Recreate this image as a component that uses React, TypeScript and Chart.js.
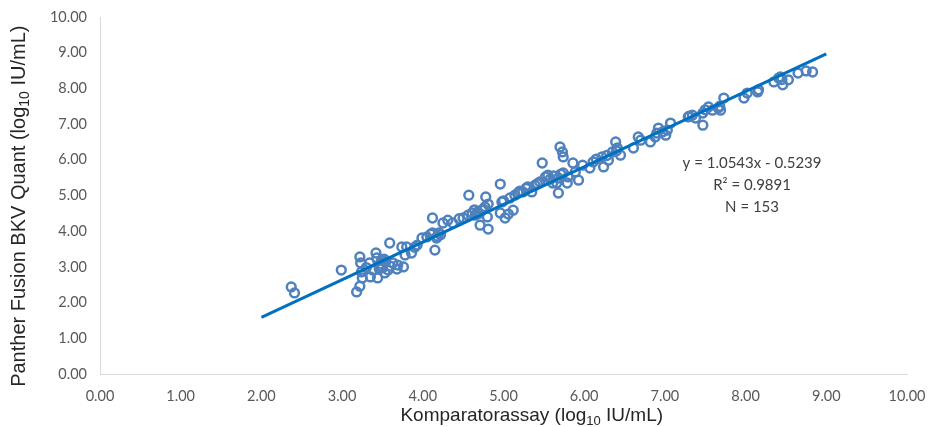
import React, { useEffect, useRef } from "react";
import { Chart, registerables } from "chart.js";

Chart.register(...registerables);

// Komparatorassay (log10 IU/mL)
const xValues: number[] = [
  2.37, 2.41, 2.99, 3.18, 3.22, 3.22, 3.23, 3.24, 3.25, 3.34,
  3.35, 3.38, 3.42, 3.43, 3.44, 3.47, 3.49, 3.50, 3.54, 3.57,
  3.53, 3.59, 3.63, 3.68, 3.69, 3.74, 3.76, 3.78, 3.80, 3.86,
  3.93, 3.99, 4.05, 4.12, 4.12, 4.15, 4.17, 4.20, 4.25, 4.31,
  4.37, 4.50, 4.57, 4.56, 4.61, 4.65, 4.68, 4.71, 4.73, 4.77,
  4.78, 4.81, 4.81, 4.80, 4.96, 4.98, 4.96, 5.02, 5.06, 5.12,
  5.08, 5.14, 5.18, 5.24, 5.30, 5.35, 5.39, 5.45, 5.48, 5.52,
  5.55, 5.58, 5.61, 5.66, 5.68, 5.68, 5.70, 5.73, 5.74, 5.74,
  5.79, 5.80, 5.86, 5.89, 5.93, 5.98, 6.07, 6.11, 6.22, 6.24,
  6.30, 6.35, 6.39, 6.41, 6.45, 6.61, 6.67, 6.70, 6.82, 6.88,
  6.92, 6.97, 7.03, 7.07, 7.01, 7.29, 7.34, 7.38, 7.47, 7.47,
  7.54, 7.59, 7.66, 7.69, 7.73, 7.98, 8.02, 8.15, 8.16, 8.35,
  8.41, 8.43, 8.46, 8.53, 8.65, 8.75, 8.83, 3.30, 3.46, 3.60,
  3.52, 4.18, 4.22, 4.64, 4.70, 4.75, 5.00, 5.20, 5.28, 5.42,
  5.62, 5.71, 6.15, 6.28, 6.40, 6.90, 7.30, 7.50, 7.68, 8.45,
  3.90, 4.10, 4.45,
];

// Panther Fusion BKV Quant (log10 IU/mL)
const yValues: number[] = [
  2.44, 2.27, 2.91, 2.30, 2.46, 3.28, 3.11, 2.86, 2.69, 3.11,
  2.72, 2.91, 3.39, 3.25, 2.69, 3.08, 3.19, 2.97, 3.14, 2.91,
  2.83, 3.67, 3.11, 2.94, 3.05, 3.56, 3.00, 3.33, 3.56, 3.39,
  3.61, 3.81, 3.84, 3.95, 4.37, 3.47, 3.81, 3.95, 4.23, 4.31,
  4.23, 4.37, 5.01, 4.45, 4.51, 4.45, 4.54, 4.17, 4.59, 4.68,
  4.96, 4.06, 4.76, 4.40, 5.32, 4.82, 4.51, 4.37, 4.48, 4.59,
  4.93, 5.01, 5.07, 5.10, 5.24, 5.10, 5.29, 5.38, 5.91, 5.52,
  5.57, 5.46, 5.35, 5.35, 5.07, 5.49, 6.36, 6.22, 6.08, 5.63,
  5.35, 5.52, 5.91, 5.66, 5.43, 5.85, 5.77, 5.94, 6.08, 5.80,
  5.99, 6.22, 6.50, 6.33, 6.13, 6.33, 6.64, 6.55, 6.50, 6.64,
  6.89, 6.78, 6.83, 7.03, 6.69, 7.20, 7.25, 7.17, 6.97, 7.31,
  7.48, 7.39, 7.45, 7.39, 7.73, 7.73, 7.87, 7.90, 7.96, 8.18,
  8.29, 8.32, 8.10, 8.24, 8.43, 8.49, 8.46, 2.98, 2.95, 3.02,
  3.22, 3.86, 3.90, 4.60, 4.50, 4.62, 4.85, 5.12, 5.20, 5.33,
  5.55, 5.60, 6.02, 6.12, 6.25, 6.75, 7.22, 7.40, 7.50, 8.25,
  3.55, 3.92, 4.35,
];

const axisTicks: number[] = [0, 1, 2, 3, 4, 5, 6, 7, 8, 9, 10];
const trendSlope = 1.0543;
const trendIntercept = -0.5239;
const trendRange: number[] = [2, 9];
const annotationLines: string[] = ["y = 1.0543x - 0.5239", "R\u00B2 = 0.9891", "N = 153"];
const xTitleParts: string[] = ["Komparatorassay (log", "10", " IU/mL)"];
const yTitleParts: string[] = ["Panther Fusion BKV Quant (log", "10", " IU/mL)"];

function drawRich(
  ctx: CanvasRenderingContext2D,
  parts: string[],
  cx: number,
  baseline: number,
  size: number
) {
  const main = `${size}px 'Liberation Sans', Arial, sans-serif`;
  const sub = `${Math.round(size * 0.68)}px 'Liberation Sans', Arial, sans-serif`;
  const fonts = [main, sub, main];
  const widths = parts.map((p, i) => {
    ctx.font = fonts[i];
    return ctx.measureText(p).width;
  });
  const total = widths.reduce((a, b) => a + b, 0);
  let x = cx - total / 2;
  ctx.textAlign = "left";
  ctx.textBaseline = "alphabetic";
  parts.forEach((p, i) => {
    ctx.font = fonts[i];
    ctx.fillText(p, x, i === 1 ? baseline + 4 : baseline);
    x += widths[i];
  });
}

const decorPlugin = {
  id: "decor",
  afterDraw(chart: any) {
    const ctx: CanvasRenderingContext2D = chart.ctx;
    const area = chart.chartArea;
    const xs = chart.scales.x;
    const ys = chart.scales.y;
    ctx.save();
    ctx.fillStyle = "#262626";
    // x axis title
    drawRich(ctx, xTitleParts, area.left + (area.right - area.left) * 0.535, 421, 19);
    // y axis title (rotated)
    ctx.translate(25, area.top + (area.bottom - area.top) * 0.53);
    ctx.rotate(-Math.PI / 2);
    drawRich(ctx, yTitleParts, 0, 0, 20);
    ctx.restore();

    // annotation
    ctx.save();
    ctx.fillStyle = "#404040";
    ctx.font = "15px Lato, 'Open Sans', sans-serif";
    ctx.textAlign = "center";
    ctx.textBaseline = "middle";
    const ax = xs.getPixelForValue(8.08);
    const ay = ys.getPixelForValue(5.91);
    annotationLines.forEach((t, i) => {
      ctx.fillText(t, ax, ay + i * 22);
    });
    ctx.restore();
  },
};

export default function App() {
  const canvasRef = useRef<HTMLCanvasElement | null>(null);

  useEffect(() => {
    document.body.style.margin = "0";
    const canvas = canvasRef.current;
    if (!canvas) return;
    const points = xValues.map((x, i) => ({ x, y: yValues[i] }));
    const trend = trendRange.map((x) => ({ x, y: trendSlope * x + trendIntercept }));

    const chart = new Chart(canvas, {
      type: "scatter",
      data: {
        datasets: [
          {
            type: "scatter",
            data: points,
            pointRadius: 4.4,
            pointHoverRadius: 4.4,
            pointBorderWidth: 2.5,
            pointBorderColor: "#4F81BD",
            pointBackgroundColor: "rgba(255,255,255,0)",
            order: 2,
          },
          {
            type: "line",
            data: trend,
            borderColor: "#0070C0",
            borderWidth: 3,
            pointRadius: 0,
            fill: false,
            order: 1,
          } as any,
        ],
      },
      options: {
        animation: false,
        responsive: false,
        devicePixelRatio: 1,
        layout: { padding: { left: 0, right: 21, top: 17, bottom: 0 } },
        plugins: {
          legend: { display: false },
          tooltip: { enabled: false },
        },
        scales: {
          x: {
            type: "linear",
            min: 0,
            max: 10,
            afterBuildTicks: (scale: any) => {
              scale.ticks = axisTicks.map((v) => ({ value: v }));
            },
            afterFit: (scale: any) => {
              scale.height = 53;
              scale.paddingLeft = 0;
              scale.paddingRight = 0;
            },
            grid: { display: false, drawTicks: false },
            border: { display: true, color: "#D9D9D9", width: 1 },
            ticks: {
              padding: 14,
              color: "#595959",
              font: { family: "Lato, 'Open Sans', sans-serif", size: 14.5 },
              maxRotation: 0,
              callback: (v: any) => Number(v).toFixed(2),
            },
          },
          y: {
            type: "linear",
            min: 0,
            max: 10,
            afterBuildTicks: (scale: any) => {
              scale.ticks = axisTicks.map((v) => ({ value: v }));
            },
            afterFit: (scale: any) => {
              scale.width = 100;
              scale.paddingTop = 0;
              scale.paddingBottom = 0;
            },
            grid: { display: false, drawTicks: false },
            border: { display: true, color: "#D9D9D9", width: 1 },
            ticks: {
              padding: 13,
              color: "#595959",
              font: { family: "Lato, 'Open Sans', sans-serif", size: 14.5 },
              callback: (v: any) => Number(v).toFixed(2),
            },
          },
        },
      },
      plugins: [decorPlugin],
    });
    return () => chart.destroy();
  }, []);

  return (
    <div style={{ width: 928, height: 427 }}>
      <canvas ref={canvasRef} width={928} height={427} style={{ display: "block" }} />
    </div>
  );
}
